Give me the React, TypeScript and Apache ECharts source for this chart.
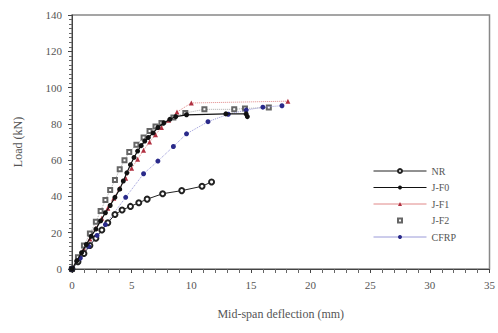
import React, { useEffect, useRef } from "react";
import * as echarts from "echarts";

const xTicks = [0, 5, 10, 15, 20, 25, 30, 35];
const yTicks = [0, 20, 40, 60, 80, 100, 120, 140];

const NR: number[][] = [
  [0, 0], [0.5, 4], [1, 8.5], [1.5, 13], [2, 17], [2.5, 21.5], [3, 25.5], [3.6, 30],
  [4.2, 32.5], [4.9, 34.5], [5.6, 36.5], [6.3, 38.5], [7.6, 41.5], [9.2, 43.2],
  [10.9, 45.6], [11.7, 48],
];

const JF0: number[][] = [
  [0, 0], [0.4, 4.5], [0.8, 9], [1.2, 13.5], [1.6, 18], [2, 22], [2.4, 26.5],
  [2.8, 31], [3.2, 35], [3.6, 39.5], [4, 44], [4.3, 48.5], [4.6, 53], [4.9, 57.5],
  [5.2, 61.5], [5.5, 65], [5.8, 68], [6.1, 70.5], [6.4, 72.5], [6.8, 75],
  [7.2, 78], [7.7, 80.5], [8.2, 82.5], [8.7, 84], [9.6, 85], [12.9, 85.5],
  [14.6, 85.5], [14.7, 84],
];

const JF1: number[][] = [
  [0, 0], [0.5, 5.5], [1, 11], [1.5, 16.5], [2, 22.5], [2.5, 28], [3, 33.5],
  [3.5, 39], [4, 44.5], [4.5, 50], [5, 55.5], [5.5, 60.5], [6, 65.5], [6.5, 70],
  [7, 74], [7.5, 78], [8.1, 82], [8.8, 86.5], [10, 91.5], [18.1, 92.5],
];

const JF2: number[][] = [
  [0, 0], [0.5, 6.5], [1, 13], [1.5, 19.5], [2, 26], [2.4, 32], [2.8, 38],
  [3.2, 43.5], [3.6, 49], [4, 55], [4.4, 60], [4.8, 64.5], [5.4, 68.5],
  [6, 72.5], [6.5, 76], [7, 78.5], [7.5, 80.5], [8.5, 83.5], [9.5, 86],
  [11.1, 88], [13.6, 88], [14.5, 88.5], [16.5, 89],
];

const CFRP: number[][] = [
  [0, 0], [0.7, 6], [1.4, 12.5], [2.1, 18.5], [2.8, 24.5], [4.5, 39.5],
  [6, 52.5], [7.2, 59.5], [8.5, 67.5], [9.6, 74.5], [11.4, 81.2], [13.1, 85.3],
  [14.6, 87.6], [16, 89.2], [17.6, 90],
];

const FONT = "'Liberation Serif', 'DejaVu Serif', serif";
const TXT = "#555";

export default function App() {
  const ref = useRef<HTMLDivElement>(null);
  useEffect(() => {
    document.body.style.margin = "0";
    if (!ref.current) return;
    const chart = echarts.init(ref.current, undefined, { renderer: "svg" });
    chart.setOption({
      animation: false,
      backgroundColor: "#fff",
      grid: {
        left: 72, right: 7, top: 15, bottom: 64,
        show: true, borderColor: "#888", borderWidth: 1.5,
      },
      legend: {
        orient: "vertical",
        left: 368, top: 161,
        itemWidth: 53, itemHeight: 5, itemGap: 6.5,
        textStyle: { fontFamily: FONT, fontSize: 10, color: TXT },
        data: [
          { name: "NR", lineStyle: { width: 1, type: "solid" } },
          { name: "J-F0", lineStyle: { width: 1, type: "solid" } },
          { name: "J-F1", lineStyle: { width: 1, type: "solid" } },
          { name: "J-F2" },
          { name: "CFRP", lineStyle: { width: 1, type: "solid" } },
        ],
      },
      xAxis: {
        type: "value", min: 0, max: 35, interval: 5,
        name: "Mid-span deflection (mm)", nameLocation: "middle", nameGap: 39,
        nameTextStyle: { fontFamily: FONT, fontSize: 12, color: TXT },
        axisLine: { show: true, lineStyle: { color: "#444", width: 1 } },
        axisTick: { show: true, inside: false, length: 4, lineStyle: { color: "#444" } },
        minorTick: { show: true, splitNumber: 5, length: 4, lineStyle: { color: "#666" } },
        splitLine: { show: false },
        axisLabel: {
          fontFamily: FONT, fontSize: 11, color: TXT, margin: 10,
          formatter: (v: number) => (xTicks.includes(v) ? String(v) : ""),
        },
      },
      yAxis: {
        type: "value", min: 0, max: 140, interval: 20,
        name: "Load (kN)", nameLocation: "middle", nameGap: 48,
        nameTextStyle: { fontFamily: FONT, fontSize: 12, color: TXT },
        axisLine: { show: true, lineStyle: { color: "#444", width: 1 } },
        axisTick: { show: true, inside: false, length: 4, lineStyle: { color: "#444" } },
        minorTick: { show: true, splitNumber: 8, length: 3, lineStyle: { color: "#666" } },
        splitLine: { show: false },
        axisLabel: {
          fontFamily: FONT, fontSize: 11, color: TXT, margin: 10,
          formatter: (v: number) => (yTicks.includes(v) ? String(v) : ""),
        },
      },
      series: [
        {
          name: "J-F2-line", type: "line", data: JF2, symbol: "none",
          lineStyle: { color: "#aaa", width: 1, type: "dotted" }, z: 1,
        },
        {
          name: "NR", type: "line", data: NR, symbol: "emptyCircle", symbolSize: 5,
          itemStyle: { color: "#222", borderColor: "#222" },
          lineStyle: { color: "#222", width: 1 }, z: 3,
        },
        {
          name: "J-F0", type: "line", data: JF0, symbol: "circle", symbolSize: 5,
          itemStyle: { color: "#111" },
          lineStyle: { color: "#111", width: 1.2 }, z: 4,
        },
        {
          name: "J-F1", type: "line", data: JF1, symbol: "triangle", symbolSize: 5,
          itemStyle: { color: "#b03040" },
          lineStyle: { color: "#e08888", width: 1, type: "dotted" }, z: 2,
        },
        {
          name: "J-F2", type: "line", data: JF2, symbol: "emptyRect", symbolSize: 4,
          itemStyle: { color: "#666", borderColor: "#666" },
          lineStyle: { width: 0, opacity: 0 }, z: 2,
        },
        {
          name: "CFRP", type: "line", data: CFRP, symbol: "circle", symbolSize: 5,
          itemStyle: { color: "#2a2a8a" },
          lineStyle: { color: "#9a9ad8", width: 1, type: "dotted" }, z: 3,
        },
      ],
    });
    return () => chart.dispose();
  }, []);
  return <div ref={ref} style={{ width: 498, height: 333 }} />;
}
